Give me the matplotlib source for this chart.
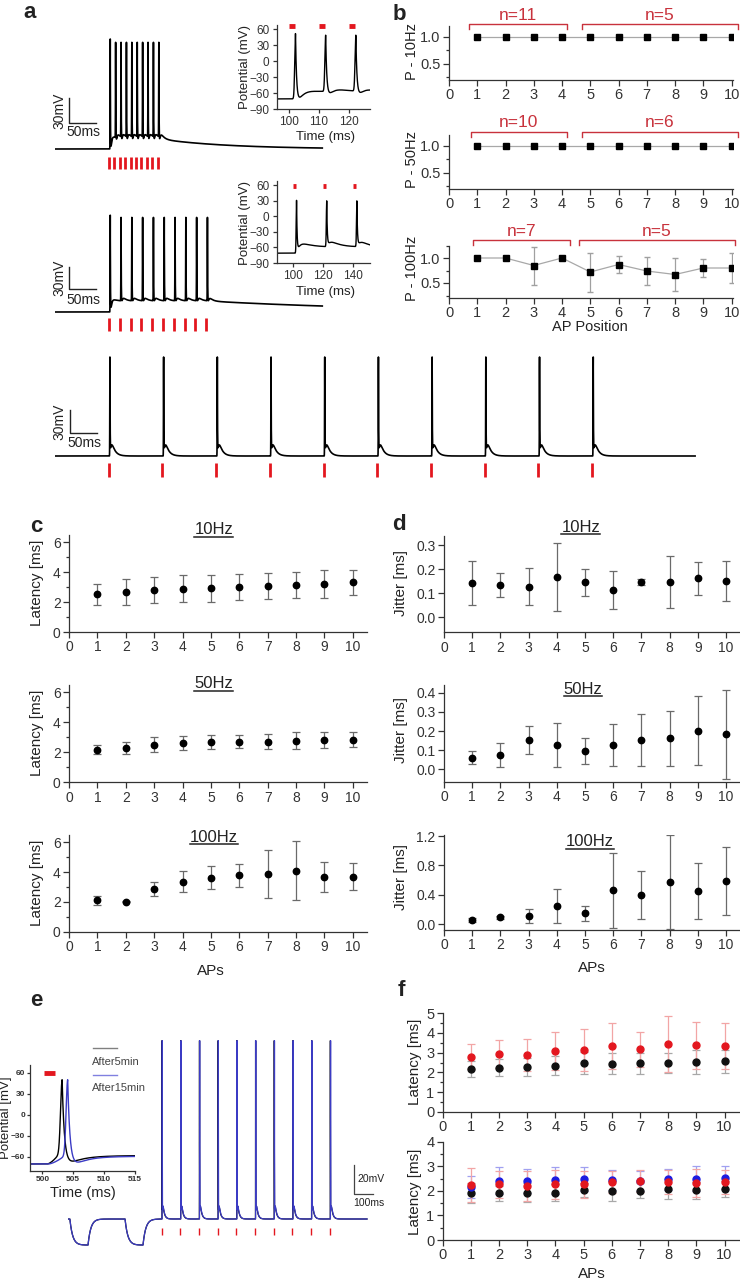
import numpy as np
import matplotlib
matplotlib.use('Agg')
import matplotlib.pyplot as plt
import matplotlib.transforms as mtransforms
from matplotlib.lines import Line2D
from matplotlib.ticker import MultipleLocator

plt.rcParams['font.family'] = ['Liberation Sans', 'DejaVu Sans']
plt.rcParams['axes.linewidth'] = 0.9
plt.rcParams['axes.edgecolor'] = '#333333'
plt.rcParams['xtick.color'] = '#333333'
plt.rcParams['ytick.color'] = '#333333'
plt.rcParams['text.color'] = '#222222'

RED = '#e3171f'
BRED = '#c8323c'
GREY = '#6a6a6a'

# ---------------- data ----------------
aps = [1, 2, 3, 4, 5, 6, 7, 8, 9, 10]

# a: example trains (stimulus times in ms, spike peaks in mV)
stim_100hz = [100, 110, 120, 130, 140, 150, 160, 170, 180, 190]
stim_50hz = [100, 120, 140, 160, 180, 200, 220, 240, 260, 280]
stim_10hz = [100, 200, 300, 400, 500, 600, 700, 800, 900, 1000]
peak_100hz = [62, 58, 58, 58, 58, 58, 58, 58, 58, 58]
peak_50hz = [62, 59, 59, 59, 59, 59, 59, 59, 59, 59]
peak_10hz = [59, 59, 59, 59, 59, 59, 59, 59, 59, 59]
inset_100hz_peaks = [52, 49, 49]
inset_50hz_peaks = [31, 30, 30]
spike_delay = 2.3

# b: spike probability
p_10hz = [1.0, 1.0, 1.0, 1.0, 1.0, 1.0, 1.0, 1.0, 1.0, 1.0]
p_50hz = [1.0, 1.0, 1.0, 1.0, 1.0, 1.0, 1.0, 1.0, 1.0, 1.0]
p_100hz = [1.0, 1.0, 0.85, 1.0, 0.72, 0.87, 0.74, 0.67, 0.80, 0.80]
p_100hz_err = [0, 0, 0.38, 0, 0.39, 0.17, 0.28, 0.33, 0.18, 0.30]
groups_10hz = [(0.71, 4.16, 'n=11'), (4.71, 10.22, 'n=5')]
groups_50hz = [(0.77, 4.18, 'n=10'), (4.69, 10.22, 'n=6')]
groups_100hz = [(0.86, 4.28, 'n=7'), (4.60, 10.13, 'n=5')]

# c: latency
lat_10 = [2.51, 2.69, 2.80, 2.89, 2.91, 3.00, 3.07, 3.16, 3.20, 3.31]
lat_10_err = [0.70, 0.87, 0.87, 0.88, 0.91, 0.89, 0.88, 0.87, 0.92, 0.83]
lat_50 = [2.16, 2.29, 2.50, 2.61, 2.68, 2.72, 2.72, 2.78, 2.83, 2.85]
lat_50_err = [0.30, 0.42, 0.50, 0.47, 0.48, 0.45, 0.50, 0.55, 0.56, 0.52]
lat_100 = [2.12, 2.02, 2.86, 3.37, 3.64, 3.78, 3.87, 4.11, 3.69, 3.71]
lat_100_err = [0.30, 0.05, 0.48, 0.68, 0.80, 0.75, 1.60, 2.00, 1.00, 0.90]

# d: jitter
jit_10 = [0.143, 0.133, 0.128, 0.169, 0.146, 0.115, 0.147, 0.148, 0.163, 0.153]
jit_10_err = [0.092, 0.050, 0.078, 0.141, 0.056, 0.080, 0.012, 0.108, 0.069, 0.083]
jit_50 = [0.061, 0.075, 0.153, 0.127, 0.097, 0.127, 0.153, 0.162, 0.201, 0.184]
jit_50_err = [0.033, 0.063, 0.073, 0.117, 0.067, 0.110, 0.135, 0.143, 0.180, 0.232]
jit_100 = [0.055, 0.09, 0.11, 0.25, 0.145, 0.46, 0.40, 0.57, 0.45, 0.59]
jit_100_err = [0.025, 0.025, 0.09, 0.23, 0.10, 0.51, 0.33, 0.64, 0.38, 0.46]

# e: recordings after 5 and 15 min
stim_e = [500, 600, 700, 800, 900, 1000, 1100, 1200, 1300, 1400]
delay_5min = 3.2
delay_15min = 4.1
peak_e = [58, 58, 58, 58, 58, 58, 58, 58, 58, 58]
hyper_steps = [(10, 107), (305, 401)]

# f: latency comparison
f1_red = [2.80, 2.92, 2.88, 3.08, 3.14, 3.34, 3.17, 3.44, 3.37, 3.34]
f1_red_err = [0.65, 0.70, 0.80, 0.95, 1.05, 1.15, 0.90, 1.40, 1.20, 1.15]
f1_black = [2.17, 2.24, 2.29, 2.34, 2.46, 2.44, 2.46, 2.47, 2.51, 2.56]
f1_black_err = [0.42, 0.43, 0.46, 0.48, 0.56, 0.54, 0.54, 0.52, 0.61, 0.58]
f2_black = [1.90, 1.90, 1.93, 1.93, 2.03, 1.99, 2.00, 2.07, 2.03, 2.07]
f2_black_err = [0.40, 0.30, 0.38, 0.33, 0.30, 0.42, 0.30, 0.42, 0.35, 0.32]
f2_red = [2.24, 2.26, 2.20, 2.26, 2.26, 2.36, 2.39, 2.36, 2.32, 2.36]
f2_red_err = [0.70, 0.55, 0.60, 0.60, 0.55, 0.45, 0.45, 0.50, 0.55, 0.50]
f2_blue = [2.17, 2.41, 2.41, 2.44, 2.48, 2.45, 2.41, 2.47, 2.50, 2.54]
f2_blue_err = [0.45, 0.55, 0.48, 0.55, 0.48, 0.40, 0.40, 0.42, 0.50, 0.48]

# ---------------- helpers ----------------
W, H = 740, 1280
fig = plt.figure(figsize=(W / 100, H / 100), dpi=100)


def box(l, t, r, b):
    ax = fig.add_axes([l / W, 1 - b / H, (r - l) / W, (b - t) / H])
    ax.set_facecolor('none')
    return ax


def ftext(xpx, ypx, s, **kw):
    return fig.text(xpx / W, 1 - ypx / H, s, ha=kw.pop('ha', 'center'), va=kw.pop('va', 'center'), **kw)


def trace_axes(x0, x1, top, bottom, y_rest, px_ms, px_mv, v_rest=-70):
    ax = box(x0, top, x1, bottom)
    ax.set_xlim(0, (x1 - x0) / px_ms)
    ax.set_ylim(v_rest - (bottom - y_rest) / px_mv, v_rest + (y_rest - top) / px_mv)
    ax.axis('off')
    return ax


def ap_trace(t, peaks, peak_mv, v_rest, plateau=0.0, p_end=None, tau_off=150.0,
             adp=0.0, tau_adp=6.0, ahp=0.0, pre=0.0, pre_dur=1.0, steps=(), step_mv=0.0):
    sub = np.full(t.shape, float(v_rest))
    t0 = peaks[0]
    t1 = peaks[-1] if p_end is None else p_end
    rise = plateau * (1 - np.exp(-np.clip(t - t0, 0, None) / 3.0))
    held = plateau * (1 - np.exp(-(t1 - t0) / 3.0))
    sub += np.where(t > t1, held * np.exp(-(t - t1) / tau_off), rise)
    for tp in peaks:
        d = np.clip(t - tp, 0, None)
        post = t > tp
        sub += post * (adp * (np.exp(-d / tau_adp) - np.exp(-d / 1.5)) - ahp * d * np.exp(1 - d))
        ramp = np.clip((t - tp + pre_dur) / pre_dur, 0, 1) ** 1.5
        sub += pre * np.where(post, np.exp(-d / 0.5), ramp)
    for on, off in steps:
        a = np.clip(t - on, 0, None)
        s = np.where(t < off, 1 - np.exp(-a / 15.0),
                     (1 - np.exp(-(off - on) / 15.0)) * np.exp(-(t - off) / 15.0))
        sub += step_mv * s
    v = sub.copy()
    for tp, pk in zip(peaks, peak_mv):
        dt = t - tp
        shape = np.where(dt < 0, np.exp(-0.5 * (dt / 0.25) ** 2), np.exp(-np.clip(dt, 0, None) / 0.35))
        v += (pk - np.interp(tp, t, sub)) * shape
    return v


def style(ax, labelsize=10):
    for s in ('top', 'right'):
        ax.spines[s].set_visible(False)
    ax.tick_params(direction='out', length=4, width=0.9, labelsize=labelsize, pad=2)
    ax.tick_params(which='minor', direction='out', length=2, width=0.9)


def blend(ax):
    return mtransforms.blended_transform_factory(ax.transData, fig.transFigure)


def utitle(ax, x, ypx, label):
    txt = ax.text(x, 1 - ypx / H, label, transform=blend(ax), ha='center', va='center', fontsize=12)
    bb = txt.get_window_extent(fig.canvas.get_renderer())
    fig.add_artist(Line2D([bb.x0 / W, bb.x1 / W], [(bb.y0 + 1) / H] * 2,
                          transform=fig.transFigure, color='#222222', lw=1.1))


# ---------------- panel a ----------------
ftext(30, 13, 'a', fontsize=16, fontweight='bold')

for (top, bottom, y_rest, px_mv, stim, pks, kw, sb, tick_px) in [
        (28, 176, 149, 0.833, stim_100hz, peak_100hz,
         dict(plateau=12, tau_off=130, adp=12, ahp=9, pre=6), (98, 123, 132), (157, 169)),
        (200, 336, 312, 0.733, stim_50hz, peak_50hz,
         dict(plateau=15, tau_off=350, adp=10, ahp=6, pre=6), (267, 289, 300), (318, 331))]:
    ax = trace_axes(55, 335, top, bottom, y_rest, 0.54, px_mv)
    t = np.arange(0, 495, 0.02)
    v = ap_trace(t, [s + spike_delay for s in stim], pks, -70, **kw)
    ax.plot(t, v, color='black', lw=1.2)
    ax.vlines(stim, -70 - (tick_px[0] - y_rest) / px_mv, -70 - (tick_px[1] - y_rest) / px_mv,
              color=RED, lw=2)
    v_hi = -70 + (y_rest - sb[0]) / px_mv
    v_lo = -70 + (y_rest - sb[1]) / px_mv
    t_sb = (68.5 - 55) / 0.54
    ax.plot([t_sb, t_sb, t_sb + 50], [v_hi, v_lo, v_lo], color='#222222', lw=1)
    ax.text(t_sb - 4, (v_hi + v_lo) / 2, '30mV', rotation=90, ha='right', va='center', fontsize=10)
    ax.text(t_sb + 27, -70 + (y_rest - sb[2]) / px_mv, '50ms', ha='center', va='center', fontsize=10)

# 10 Hz train
ax = trace_axes(55, 700, 350, 482, 456, 0.537, 0.767)
t = np.arange(0, 1192, 0.02)
v = ap_trace(t, [s + spike_delay for s in stim_10hz], peak_10hz, -70, adp=35, ahp=6, pre=6)
ax.plot(t, v, color='black', lw=1.2)
ax.vlines(stim_10hz, -70 - 7 / 0.767, -70 - 21 / 0.767, color=RED, lw=2)
t_sb = (70 - 55) / 0.537
ax.plot([t_sb, t_sb, t_sb + 50], [-70 + 46 / 0.767, -70 + 23 / 0.767, -70 + 23 / 0.767], color='#222222', lw=1)
ax.text(t_sb - 7, -70 + 34.5 / 0.767, '30mV', rotation=90, ha='right', va='center', fontsize=10)
ax.text(t_sb + 27, -70 + 13 / 0.767, '50ms', ha='center', va='center', fontsize=10)

# insets of a
for (top, bottom, xl, xt, stim, pks, kw, ylab_y, xlab_y, bar_v) in [
        (25.3, 109, (96, 127), [100, 110, 120], stim_100hz[:3], inset_100hz_peaks,
         dict(plateau=12, tau_off=130, adp=12, ahp=9, pre=6), 67, 137, 66),
        (181.4, 263, (89, 151), [100, 120, 140], stim_50hz[:3], inset_50hz_peaks,
         dict(plateau=12, tau_off=130, adp=20, ahp=2, pre=6), 223, 292, 58)]:
    ax = box(276.5, top, 370, bottom)
    t = np.arange(xl[0], xl[1], 0.01)
    v = ap_trace(t, [s + spike_delay for s in stim], pks, -71, **kw)
    ax.plot(t, v, color='black', lw=1)
    for s in stim:
        ax.plot([s, s + 2], [bar_v, bar_v], color=RED, lw=3.5, solid_capstyle='butt', clip_on=False)
    ax.set_xlim(*xl)
    ax.set_ylim(-90, 67.6)
    ax.set_xticks(xt)
    ax.set_yticks([60, 30, 0, -30, -60, -90])
    style(ax, labelsize=8.5)
    ax.tick_params(length=3)
    ftext(245, ylab_y, 'Potential (mV)', rotation=90, fontsize=9.5)
    ftext(325, xlab_y, 'Time (ms)', fontsize=9.5)

# ---------------- panel b ----------------
ftext(399, 15, 'b', fontsize=16, fontweight='bold')
for (top, bottom, ylim, vals, err, groups, ylab, ylab_y, line_y, txt_y) in [
        (26, 80, (0.2, 1.2), p_10hz, None, groups_10hz, 'P - 10Hz', 52, 24.3, 15),
        (135, 189, (0.2, 1.2), p_50hz, None, groups_50hz, 'P - 50Hz', 160, 132.3, 122.3),
        (245.5, 298, (0.2, 1.25), p_100hz, p_100hz_err, groups_100hz, 'P - 100Hz', 268, 240, 232)]:
    ax = box(449, top, 733, bottom)
    ax.plot(aps, vals, color='#a8a8a8', lw=0.9, zorder=1)
    if err is not None:
        ax.errorbar(aps, vals, yerr=err, fmt='none', ecolor='#a0a0a0', elinewidth=0.9, capsize=2, zorder=2)
    ax.plot(aps, vals, 's', color='black', ms=3.8, zorder=3)
    ax.set_xlim(0, 10.05)
    ax.set_ylim(*ylim)
    ax.set_xticks(range(0, 11))
    ax.set_yticks([0.5, 1.0])
    ax.yaxis.set_minor_locator(MultipleLocator(0.25))
    style(ax, labelsize=10.5)
    ftext(412, ylab_y, ylab, rotation=90, fontsize=10.5)
    for x0, x1, lab in groups:
        y = 1 - line_y / H
        ax.plot([x0, x0, x1, x1], [y - 5 / H, y, y, y - 5 / H], transform=blend(ax),
                color=BRED, lw=1, clip_on=False)
        ax.text((x0 + x1) / 2, 1 - txt_y / H, lab, transform=blend(ax), ha='center', va='center',
                color=BRED, fontsize=12.5)
ftext(590, 327, 'AP Position', fontsize=10.5)

# ---------------- panels c and d ----------------
ftext(36, 527, 'c', fontsize=16, fontweight='bold')
ftext(399, 525, 'd', fontsize=16, fontweight='bold')


def bars(ax, vals, err, ecolor=GREY, zorder=2):
    ax.errorbar(aps, vals, yerr=err, fmt='none', ecolor=ecolor, elinewidth=0.9,
                capsize=2.8, capthick=0.9, zorder=zorder)


def dots(ax, vals, color='black', ms=4.6, zorder=5):
    ax.plot(aps, vals, 'o', color=color, ms=ms, zorder=zorder)


for (top, bottom, vals, err, title, ty, ylab_y) in [
        (534.5, 632, lat_10, lat_10_err, '10Hz', 530, 583),
        (685, 782.3, lat_50, lat_50_err, '50Hz', 684, 733),
        (835, 931.7, lat_100, lat_100_err, '100Hz', 837, 883)]:
    ax = box(69, top, 367, bottom)
    bars(ax, vals, err)
    dots(ax, vals)
    ax.set_xlim(0, 10.5)
    ax.set_ylim(0, 6.5)
    ax.set_xticks(range(0, 11))
    ax.set_yticks([0, 2, 4, 6])
    ax.yaxis.set_minor_locator(MultipleLocator(1))
    style(ax)
    utitle(ax, 5.1, ty, title)
    ftext(37, ylab_y, 'Latency [ms]', rotation=90, fontsize=11)
ftext(211, 971, 'APs', fontsize=11)

for (top, bottom, ylim, yt, vals, err, title, tx, ty, ylab_y) in [
        (535.7, 632.3, (-0.0625, 0.34), [0.0, 0.1, 0.2, 0.3], jit_10, jit_10_err, '10Hz', 4.85, 527, 583),
        (685, 781.8, (-0.065, 0.44), [0.0, 0.1, 0.2, 0.3, 0.4], jit_50, jit_50_err, '50Hz', 4.93, 689, 730),
        (834.6, 929.9, (-0.08, 1.22), [0.0, 0.4, 0.8, 1.2], jit_100, jit_100_err, '100Hz', 5.18, 842, 877)]:
    ax = box(444, top, 740, bottom)
    bars(ax, vals, err)
    dots(ax, vals)
    ax.set_xlim(0, 10.5)
    ax.set_ylim(*ylim)
    ax.set_xticks(range(0, 11))
    ax.set_yticks(yt)
    ax.set_yticklabels(['%.1f' % y for y in yt])
    style(ax)
    utitle(ax, tx, ty, title)
    ftext(401, ylab_y, 'Jitter [ms]', rotation=90, fontsize=11)
ftext(592, 968, 'APs', fontsize=11)

# ---------------- panel e ----------------
ftext(36, 1000, 'e', fontsize=16, fontweight='bold')
BLUE_T = '#3b3bc4'
ax = trace_axes(68, 375, 1030, 1250, 1219, 0.187, 1.45, v_rest=-65)
t = np.arange(0, 1599, 0.02)
for delay, col in [(delay_5min, 'black'), (delay_15min, BLUE_T)]:
    v = ap_trace(t, [s + delay for s in stim_e], peak_e, -65, adp=18, tau_adp=8, ahp=4, pre=5,
                 steps=hyper_steps, step_mv=-18)
    ax.plot(t, v, color=col, lw=0.9)
ax.vlines(stim_e, -65 - 9 / 1.45, -65 - 16 / 1.45, color=RED, lw=1)
t_sb = (354 - 68) / 0.187
v_top, v_bot = -65 + (1219 - 1165) / 1.45, -65 + (1219 - 1194) / 1.45
ax.plot([t_sb, t_sb, t_sb + 100], [v_top, v_bot, v_bot], color='#444444', lw=0.9, clip_on=False)
ax.text(t_sb + 16, (v_top + v_bot) / 2, '20mV', ha='left', va='center', fontsize=7.5, clip_on=False)
ax.text(t_sb - 2, v_bot - 9 / 1.45, '100ms', ha='left', va='center', fontsize=7.5, clip_on=False)

ax = box(30, 1065, 135, 1171)
t = np.arange(498, 515, 0.005)
v5 = ap_trace(t, [500 + delay_5min], [50], -70, plateau=12, p_end=600, ahp=3, pre=20, pre_dur=2.4)
v15 = ap_trace(t, [500 + delay_15min], [50], -70, plateau=11, p_end=600, ahp=4, pre=15, pre_dur=3.1)
ax.plot(t, v5, color='black', lw=1)
ax.plot(t, v15, color=BLUE_T, lw=1)
ax.plot([500.2, 502], [60, 60], color=RED, lw=3.5, solid_capstyle='butt')
ax.set_xlim(498, 515)
ax.set_ylim(-80, 71)
ax.set_xticks([500, 505, 510, 515])
ax.set_yticks([60, 30, 0, -30, -60])
style(ax, labelsize=6)
ax.tick_params(length=2.5, pad=1)
for lab in ax.get_xticklabels() + ax.get_yticklabels():
    lab.set_fontweight('bold')
ftext(6, 1118, 'Potential [mV]', rotation=90, fontsize=9.5)
ftext(83, 1193, 'Time (ms)', fontsize=10.5)
fig.add_artist(Line2D([93 / W, 117 / W], [1 - 1048 / H] * 2, transform=fig.transFigure, color='#808080', lw=1))
fig.add_artist(Line2D([93 / W, 117 / W], [1 - 1075 / H] * 2, transform=fig.transFigure, color='#8080e0', lw=1))
ftext(92, 1062, 'After5min', ha='left', fontsize=8, color='#444444')
ftext(92, 1088, 'After15min', ha='left', fontsize=8, color='#444444')

# ---------------- panel f ----------------
ftext(401, 990, 'f', fontsize=16, fontweight='bold')
ax = box(442.7, 1013.3, 740, 1111.7)
bars(ax, f1_black, f1_black_err, ecolor='#a8a8a8')
bars(ax, f1_red, f1_red_err, ecolor='#f2a5a5', zorder=3)
dots(ax, f1_black, color='#111111', ms=5)
dots(ax, f1_red, color=RED, ms=5, zorder=6)
ax.set_ylim(0, 5)
ax.set_yticks([0, 1, 2, 3, 4, 5])
ax.yaxis.set_minor_locator(MultipleLocator(0.5))
ftext(415, 1062, 'Latency [ms]', rotation=90, fontsize=11)
ax2 = box(442.7, 1141.7, 740, 1240)
bars(ax2, f2_black, f2_black_err, ecolor='#a8a8a8')
bars(ax2, f2_blue, f2_blue_err, ecolor='#a0a0f0', zorder=3)
bars(ax2, f2_red, f2_red_err, ecolor='#f2a5a5', zorder=4)
dots(ax2, f2_black, color='#111111', ms=5)
dots(ax2, f2_blue, color='#1c1ce0', ms=5, zorder=6)
dots(ax2, f2_red, color=RED, ms=5, zorder=7)
ax2.set_ylim(0, 4)
ax2.set_yticks([0, 1, 2, 3, 4])
ax2.yaxis.set_minor_locator(MultipleLocator(0.5))
ftext(415, 1192, 'Latency [ms]', rotation=90, fontsize=11)
for a_ in (ax, ax2):
    a_.set_xlim(0, 10.55)
    a_.set_xticks(range(0, 11))
    style(a_, labelsize=10.5)
ftext(592, 1274, 'APs', fontsize=11)

fig.savefig('out.png', dpi=100)
